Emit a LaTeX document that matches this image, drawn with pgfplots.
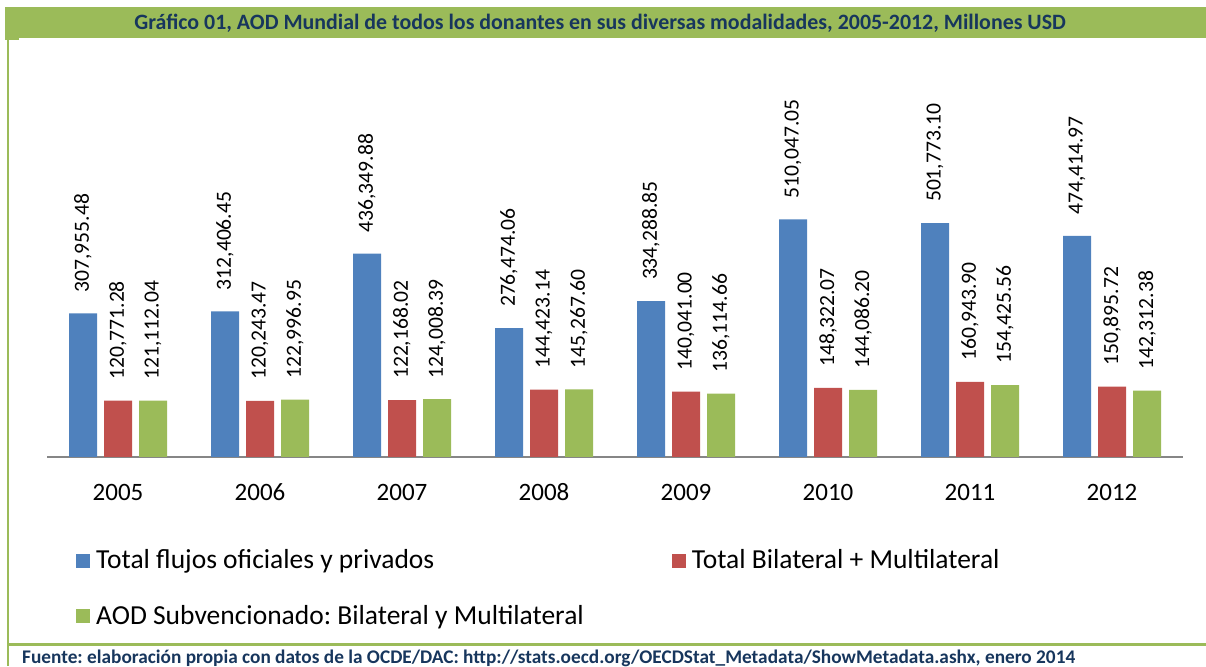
\documentclass[border=0pt]{standalone}
\usepackage{fontspec}
\setmainfont{Carlito}
\usepackage{pgfplots}
\usepackage{pgfplotstable}
\pgfplotsset{compat=1.18}
\definecolor{cblue}{HTML}{4F81BD}
\definecolor{cred}{HTML}{C0504D}
\definecolor{cgreen}{HTML}{9BBB59}
\definecolor{navy}{HTML}{17365D}
\definecolor{axgray}{HTML}{868686}
\frenchspacing

\pgfplotstableread{
x y l
0 307955.48 307,955.48
1 312406.45 312,406.45
2 436349.88 436,349.88
3 276474.06 276,474.06
4 334288.85 334,288.85
5 510047.05 510,047.05
6 501773.10 501,773.10
7 474414.97 474,414.97
}\tblblue
\pgfplotstableread{
x y l
0 120771.28 120,771.28
1 120243.47 120,243.47
2 122168.02 122,168.02
3 144423.14 144,423.14
4 140041.00 140,041.00
5 148322.07 148,322.07
6 160943.90 160,943.90
7 150895.72 150,895.72
}\tblred
\pgfplotstableread{
x y l
0 121112.04 121,112.04
1 122996.95 122,996.95
2 124008.39 124,008.39
3 145267.60 145,267.60
4 136114.66 136,114.66
5 144086.20 144,086.20
6 154425.56 154,425.56
7 142312.38 142,312.38
}\tblgreen

\begin{document}
\frenchspacing
\begin{tikzpicture}[x=1pt,y=1pt]
\path[use as bounding box] (0,0) rectangle (1206,666);
\fill[cgreen] (5,628) rectangle (1206,659);
\fill[cgreen] (5,626) rectangle (19,628);
\node[font=\fontsize{21.9}{25}\selectfont\bfseries, text=navy] at (600,643) {Gráfico 01, AOD Mundial de todos los donantes en sus diversas modalidades, 2005-2012, Millones USD};
\fill[cgreen] (6.5,0) rectangle (9,628);
\fill[cgreen] (6.5,20.5) rectangle (1206,23.5);
\node[anchor=base west, inner sep=0pt, font=\fontsize{19.3}{22}\selectfont\bfseries, text=navy] at (22,3) {Fuente: elaboración propia con datos de la OCDE/DAC: http://stats.oecd.org/OECDStat\_Metadata/ShowMetadata.ashx, enero 2014};
\begin{axis}[
  at={(47pt,209pt)}, anchor=south west,
  scale only axis, width=1136pt, height=412pt,
  xmin=-0.5, xmax=7.5, ymin=0, ymax=884000,
  ybar=7pt, bar width=28pt,
  axis x line=bottom, axis y line=none,
  x axis line style={-, draw=axgray, line width=2pt},
  xtick={0,...,7},
  xticklabels={2005,2006,2007,2008,2009,2010,2011,2012},
  major tick length=0pt,
  xticklabel style={font=\fontsize{25}{29}\selectfont, text height=16pt, inner sep=0pt, anchor=north, yshift=-27pt},
  point meta=explicit symbolic,
  nodes near coords,
  every node near coord/.append style={rotate=90, anchor=west, inner xsep=21pt, inner ysep=0pt, font=\fontsize{21.6}{25}\selectfont, text=black},
  legend style={at={(29/1136,-0.224)}, anchor=north west, draw=none, fill=none,
    font=\fontsize{27.5}{32}\selectfont, inner sep=0pt, /tikz/row sep=35pt,
    /tikz/every odd column/.append style={column sep=3pt},
    /tikz/every even column/.append style={column sep=85pt},
    nodes={inner xsep=3pt, inner ysep=0pt}},
  legend columns=2,
  legend cell align=left,
  legend image code/.code={\fill[#1,draw=none] (0pt,-8pt) rectangle (14pt,6pt);},
]
\addplot[fill=cblue, draw=none] table[x=x,y=y,meta=l] {\tblblue};
\addplot[fill=cred, draw=none] table[x=x,y=y,meta=l] {\tblred};
\addplot[fill=cgreen, draw=none] table[x=x,y=y,meta=l] {\tblgreen};
\legend{Total flujos oficiales y privados, Total Bilateral + Multilateral, AOD Subvencionado: Bilateral y Multilateral}
\end{axis}
\end{tikzpicture}
\end{document}
